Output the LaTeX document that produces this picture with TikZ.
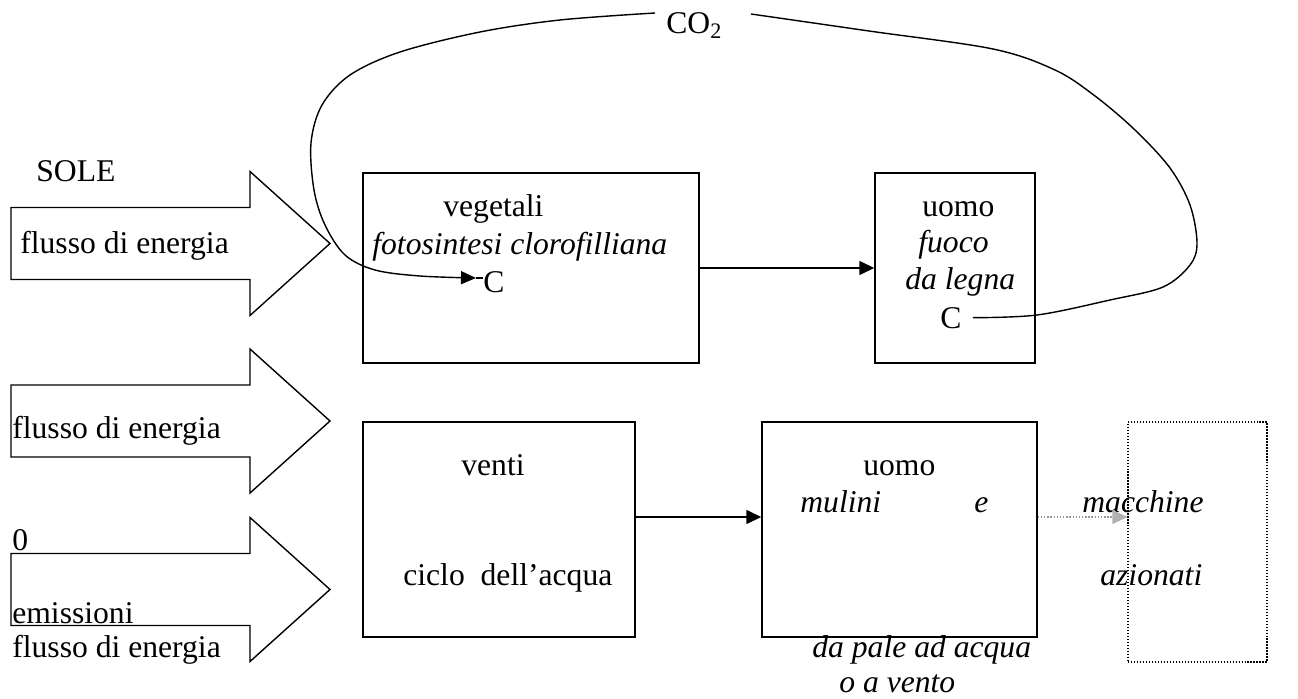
\documentclass[tikz,border=0pt]{standalone}
\usepackage{fontspec}
\setmainfont{Liberation Serif}
\usepackage{tikz}
\usetikzlibrary{positioning, fit, arrows.meta}

\tikzset{
  box/.style={draw=black, line width=0.8pt, rectangle, inner sep=0pt},
  dotbox/.style={draw=black, line width=0.7pt, densely dotted, rectangle, inner sep=0pt},
  lbl/.style={anchor=base west, inner sep=0pt},
  itlbl/.style={lbl, font=\fontsize{18}{22}\selectfont\itshape},
  link/.style={line width=0.8pt, -{Triangle[length=0.3cm, width=0.28cm]}},
  cycleline/.style={line width=0.8pt},
  sunarrow/.pic={\draw[line width=0.8pt] (0,-36) -- (239,-36) -- (239,-72) -- (319,0) -- (239,72) -- (239,36) -- (0,36) -- cycle;}
}

\begin{document}
\begin{tikzpicture}[x=0.02cm, y=-0.02cm, font=\fontsize{18}{22}\selectfont]
\useasboundingbox (0,0) rectangle (1298,699);
% frecce del sole
\pic at (11,243.5) {sunarrow};
\pic at (11,421) {sunarrow};
\pic at (11,589.5) {sunarrow};
\node[lbl] (sole) at (36,182) {SOLE};
\node[lbl] (flusso1) at (20,254) {flusso di energia};
\node[lbl] (flusso2) at (12,438) {flusso di energia};
\node[lbl] (zero) at (12,550) {0};
\node[lbl] (emiss) at (12,623) {emissioni};
\node[lbl] (flusso3) at (12,657) {flusso di energia};
% riquadri
\node[box, fit={(363,173) (699,363)}] (veg) {};
\node[box, fit={(875,173) (1035,363)}] (fire) {};
\node[box, fit={(363,422) (635,637)}] (venti) {};
\node[box, fit={(762,422) (1037,637)}] (mill) {};
\node[dotbox, fit={(1128,422) (1267,662)}] (macch) {};
% testi
\node[lbl] (vegt) at (443,217) {vegetali};
\node[itlbl] (foto) at (372,255) {fotosintesi clorofilliana};
\node[lbl] (Cv) at (483,293) {C};
\node[lbl] (uomo1) at (922,217) {uomo};
\node[itlbl] (fuoco) at (918,253) {fuoco};
\node[itlbl] (legna) at (905,290) {da legna};
\node[lbl] (Cu) at (940,328) {C};
\node[lbl] (ventit) at (461,475) {venti};
\node[lbl] (ciclo) at (403,585) {ciclo\ \ dell’acqua};
\node[lbl] (uomo2) at (863,475) {uomo};
\node[itlbl] (mulini) at (800,512) {mulini};
\node[itlbl] (e) at (974,512) {e};
\node[itlbl] (pale) at (812,657) {da pale ad acqua};
\node[itlbl] (vento) at (839,692) {o a vento};
\node[itlbl] (macchine) at (1082,512) {macchine};
\node[itlbl] (azionati) at (1100,585) {azionati};
\node[lbl] (co2) at (666,34) {CO\textsubscript{2}};
% collegamenti
\coordinate (wind) at (0,517);
\draw[link] (veg.east) -- (fire.west);
\draw[link] (venti.east |- wind) -- (mill.west |- wind);
\draw[densely dotted, gray!80, line width=0.8pt, -{Triangle[length=0.3cm, width=0.28cm, fill=gray!60, color=gray!60]}] (mill.east |- wind) -- (macch.west |- wind);
% ciclo del carbonio
\coordinate (cstart) at ([xshift=0.22cm]Cu.east);
\coordinate (co2r) at (751,14);
\coordinate (co2l) at (655,13);
\coordinate (vtip) at (476,278);
\draw[cycleline] plot[smooth, tension=0.55] coordinates {(cstart) (1037,315) (1110,300) (1163,287) (1190,265) (1197,243) (1190,205) (1170,168) (1135,130) (1095,96) (1055,70) (993,49) (869,31) (co2r)};
\draw[cycleline, -{Triangle[length=0.3cm, width=0.26cm]}] plot[smooth, tension=0.55] coordinates {(co2l) (560,20) (480,32) (400,52) (350,75) (322,105) (311,143) (314,190) (325,225) (345,255) (375,270) (420,276) (vtip)};
\draw[cycleline] (vtip) -- (Cv.west |- vtip);
\end{tikzpicture}
\end{document}
